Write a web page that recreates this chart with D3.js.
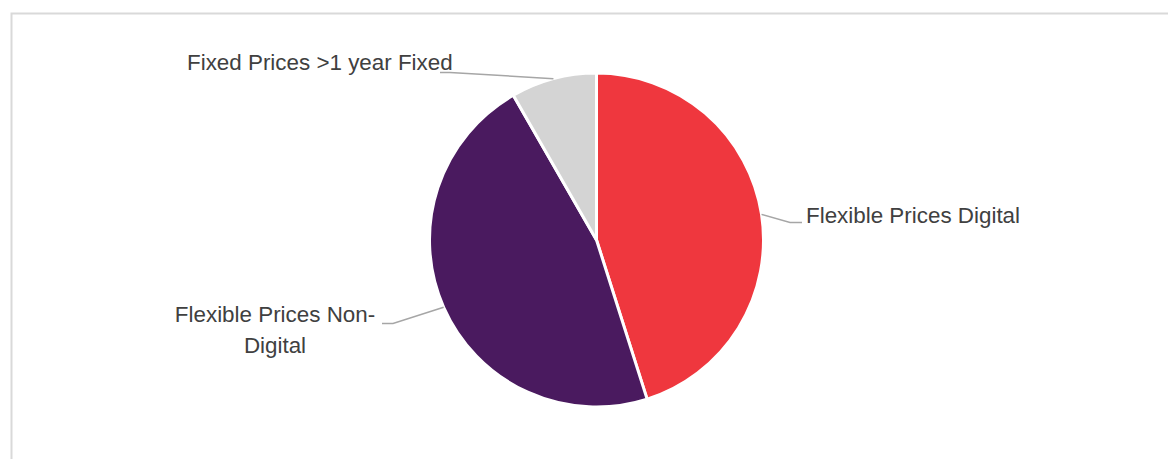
<!DOCTYPE html>
<html>
<head>
<meta charset="utf-8">
<script src="https://cdn.jsdelivr.net/npm/d3@7"></script>
<style>
  html, body { margin: 0; padding: 0; background: #fff; }
  svg { display: block; }
  .lbl { font-family: "Liberation Sans", Arial, sans-serif; font-size: 22.4px; fill: #404040; }
</style>
</head>
<body>
<svg id="chart" width="1168" height="459"></svg>
<script>
// Share of prices by type
const categories = ["Flexible Prices Digital", "Flexible Prices Non-Digital", "Fixed Prices >1 year Fixed"];
const shares = [45.1, 46.6, 8.3];
const colors = ["#EF373E", "#4A1A5F", "#D4D4D4"];

const svg = d3.select("#chart");

// chart frame
svg.append("path")
  .attr("d", "M11.5,470 V13.5 H1175")
  .attr("fill", "none")
  .attr("stroke", "#d9d9d9")
  .attr("stroke-width", 2);

const cx = 596.5, cy = 240, r = 167;

const pie = d3.pie().sort(null).value(d => d.v);
const arcs = pie(categories.map((c, i) => ({ c, v: shares[i], color: colors[i] })));
const arc = d3.arc().innerRadius(0).outerRadius(r);

const g = svg.append("g").attr("transform", `translate(${cx},${cy})`);

g.selectAll("path.slice")
  .data(arcs)
  .join("path")
  .attr("class", "slice")
  .attr("d", arc)
  .attr("fill", d => d.data.color)
  .attr("stroke", "#fff")
  .attr("stroke-width", 3)
  .attr("stroke-linejoin", "round");

// label placement: text anchor, leader elbow, leader end (page coords)
const labelLayout = [
  { lines: ["Flexible Prices Digital"], x: 806, y: 223, anchor: "start", elbow: [790, 222.5], end: [802, 222.5] },
  { lines: ["Flexible Prices Non-", "Digital"], x: 275, y: 322, anchor: "middle", elbow: [393, 323.5], end: [382, 323.5] },
  { lines: ["Fixed Prices >1 year Fixed"], x: 187, y: 70, anchor: "start", elbow: [450, 72.5], end: [440, 72.5] }
];

arcs.forEach((d, i) => {
  const L = labelLayout[i];
  const mid = (d.startAngle + d.endAngle) / 2;
  const sx = cx + r * Math.sin(mid);
  const sy = cy - r * Math.cos(mid);
  svg.append("polyline")
    .attr("points", [[sx, sy], L.elbow, L.end].map(p => p.join(",")).join(" "))
    .attr("fill", "none")
    .attr("stroke", "#a6a6a6")
    .attr("stroke-width", 1.5);

  const t = svg.append("text")
    .attr("class", "lbl")
    .attr("text-anchor", L.anchor);
  L.lines.forEach((s, j) => {
    t.append("tspan")
      .attr("x", L.x)
      .attr("y", L.y + j * 31)
      .text(s);
  });
});
</script>
</body>
</html>
